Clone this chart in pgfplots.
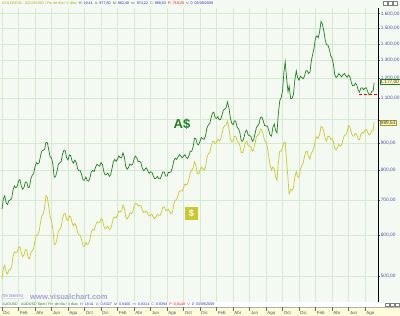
\documentclass[border=0pt]{standalone}
\usepackage{pgfplots}
\pgfplotsset{compat=1.18}
\usepackage{pgfplotstable}
\usepackage{fontspec}
\setmainfont{Liberation Sans}
\definecolor{bg}{HTML}{F4F9F2}
\definecolor{gridc}{HTML}{D3E9D0}
\definecolor{gline}{HTML}{1F7F1F}
\definecolor{yline}{HTML}{C9C92E}
\definecolor{lab}{HTML}{5252A0}
\definecolor{strip}{HTML}{FFFCDC}
\definecolor{urlc}{HTML}{A4A4D2}
\definecolor{valc}{HTML}{2F2FC0}

\pgfplotstableread{
t usd aud
0.00 495 673
0.17 518 705
0.33 525 714
0.50 509 692
0.67 505 687
0.83 514 699
1.00 515 701
1.17 521 705
1.33 545 732
1.50 557 746
1.67 555 740
1.83 556 744
2.00 568 762
2.17 570 767
2.33 555 747
2.50 545 735
2.67 550 741
2.83 562 758
3.00 562 759
3.17 543 740
3.33 540 742
3.50 555 770
3.67 560 783
3.83 565 787
4.00 585 812
4.17 600 827
4.33 600 822
4.50 610 826
4.67 635 852
4.83 654 871
5.00 660 874
5.17 678 877
5.33 715 905
5.50 708 903
5.67 680 875
5.83 651 848
6.00 640 845
6.17 616 821
6.33 575 775
6.50 577 778
6.67 590 797
6.83 610 821
7.00 615 826
7.17 622 831
7.33 645 858
7.50 659 873
7.67 660 871
7.83 643 845
8.00 640 837
8.17 653 856
8.33 650 853
8.50 633 832
8.67 625 825
8.83 632 836
9.00 625 828
9.17 606 804
9.33 600 798
9.50 599 798
9.67 585 782
9.83 572 766
10.00 570 765
10.17 581 776
10.33 575 764
10.50 578 762
10.67 590 774
10.83 609 795
11.00 615 799
11.17 613 795
11.33 625 809
11.50 636 821
11.67 635 817
11.83 634 814
12.00 645 827
12.17 642 821
12.33 625 796
12.50 617 783
12.67 620 785
12.83 624 790
13.00 615 778
13.17 617 784
13.33 630 805
13.50 647 831
13.67 650 839
13.83 647 832
14.00 655 840
14.17 667 852
14.33 665 845
14.50 668 846
14.67 685 864
14.83 676 849
15.00 650 813
15.17 644 803
15.33 650 809
15.50 661 822
15.67 660 818
15.83 664 821
16.00 680 840
16.17 691 851
16.33 690 845
16.50 682 831
16.67 685 832
16.83 684 828
17.00 670 807
17.17 663 798
17.33 665 803
17.50 668 808
17.67 660 798
17.83 653 789
18.00 655 794
18.17 658 793
18.33 650 780
18.50 645 770
18.67 650 772
18.83 658 778
19.00 655 771
19.17 655 770
19.33 665 780
19.50 679 794
19.67 680 793
19.83 669 779
20.00 670 779
20.17 673 792
20.33 665 792
20.50 659 795
20.67 665 811
20.83 689 834
21.00 700 843
21.17 702 839
21.33 715 848
21.50 729 857
21.67 730 852
21.83 729 845
22.00 740 851
22.17 752 857
22.33 750 846
22.50 753 842
22.67 770 853
22.83 792 870
23.00 800 870
23.17 807 887
23.33 830 922
23.50 818 919
23.67 790 898
23.83 787 895
24.00 800 909
24.17 811 924
24.33 805 920
24.50 800 917
24.67 810 931
24.83 843 963
25.00 860 977
25.17 864 982
25.33 885 1006
25.50 907 1030
25.67 910 1034
25.83 899 1010
26.00 905 1006
26.17 917 1013
26.33 910 1000
26.50 916 1001
26.67 940 1022
26.83 966 1044
27.00 975 1048
27.17 976 1055
27.33 995 1082
27.50 966 1056
27.67 920 1011
27.83 907 986
28.00 910 978
28.17 928 995
28.33 930 993
28.50 910 968
28.67 905 960
28.83 893 945
29.00 865 911
29.17 865 909
29.33 880 924
29.50 903 949
29.67 910 955
29.83 892 935
30.00 890 932
30.17 888 930
30.33 870 909
30.50 877 915
30.67 900 939
30.83 926 966
31.00 935 974
31.17 940 984
31.33 960 1011
31.50 956 1012
31.67 935 995
31.83 912 975
32.00 905 973
32.17 886 973
32.33 850 955
32.50 817 934
32.67 800 930
32.83 811 966
33.00 805 982
33.17 777 953
33.33 765 944
33.50 828 1029
33.67 870 1088
33.83 870 1102
34.00 885 1135
34.17 903 1234
34.33 905 1293
34.50 830 1201
34.67 770 1132
34.80 720 1161
35.00 735 1097
35.17 732 1100
35.33 740 1121
35.50 776 1194
35.67 795 1242
35.83 777 1205
36.00 775 1192
36.17 803 1212
36.33 815 1207
36.50 825 1199
36.67 850 1214
36.83 868 1241
37.00 870 1243
37.17 847 1227
37.33 840 1235
37.50 863 1299
37.67 870 1338
37.83 887 1375
38.00 920 1438
38.17 928 1451
38.33 920 1438
38.50 937 1478
38.67 970 1545
38.83 968 1528
39.00 950 1484
39.17 922 1426
39.33 910 1394
39.50 928 1393
39.67 930 1368
39.83 917 1329
40.00 920 1314
40.17 908 1280
40.33 880 1222
40.50 875 1206
40.67 885 1212
40.83 896 1227
41.00 890 1219
41.17 895 1209
41.33 915 1220
41.50 933 1228
41.67 935 1214
41.83 947 1207
42.00 975 1219
42.17 968 1210
42.33 945 1181
42.50 930 1162
42.67 930 1163
42.83 941 1176
43.00 935 1169
43.17 917 1140
43.33 915 1130
43.50 938 1151
43.67 945 1152
43.83 942 1142
44.00 955 1151
44.17 958 1152
44.33 945 1132
44.50 935 1116
44.67 940 1119
44.83 954 1135
45.00 955 1137
45.10 990 1179
}\gold

\begin{document}
\begin{tikzpicture}
\useasboundingbox (0pt,0pt) rectangle (400pt,316pt);
\fill[bg] (0pt,0pt) rectangle (400pt,316pt);
\fill[strip] (0pt,0pt) rectangle (400pt,9pt);
\fill[white] (0pt,9pt) rectangle (400pt,14pt);
\draw[gray!60, line width=0.3pt] (0pt,9pt) -- (400pt,9pt);
\begin{axis}[
  at={(0pt,14pt)}, anchor=south west, scale only axis,
  width=378pt, height=294pt,
  xmin=-0.2424, xmax=45.576,
  ymode=log, ymin=446, ymax=1641,
  axis y line*=right, axis x line*=bottom,
  x axis line style={draw=none},
  y axis line style={black, line width=0.8pt, -},
  ytick={500,600,700,800,900,1000,1100,1200,1300,1400,1500,1600},
  yticklabels={{500,00},{600,00},{700,00},{800,00},{900,00},{},{1.100,00},{1.200,00},{1.300,00},{1.400,00},{1.500,00},{1.600,00}},
  xtick={0,2,...,44},
  xticklabels={Dic,Feb,Abr,Jun,Ago,Oct,Dic,Feb,Abr,Jun,Ago,Oct,Dic,Feb,Abr,Jun,Ago,Oct,Dic,Feb,Abr,Jun,Ago},
  minor tick num=0,
  grid=major, major grid style={gridc, line width=0.5pt},
  x tick style={draw=none},
  y tick style={lab, line width=0.4pt},
  major tick length=2pt, tick align=outside,
  yticklabel style={font=\fontsize{4.8}{5}\selectfont, text=lab, inner sep=0.6pt},
  xticklabel style={font=\fontsize{4.4}{5}\selectfont, text=black!70, anchor=north west, inner sep=0pt, yshift=-7.5pt, xshift=1.2pt},
]
\addplot[yline, line width=0.7pt] table[x=t, y=usd] {\gold};
\addplot[gline, line width=0.7pt] table[x=t, y=aud] {\gold};
\addplot[red, densely dashed, line width=0.5pt] coordinates {(43.3,1121) (45.4,1121)};
\end{axis}
% tick marks in the month strip
\foreach \i in {0,...,22} {
  \draw[black!60, line width=0.3pt] ({2+16.5*\i pt},5pt) -- ({2+16.5*\i pt},9pt);
}
% labels inside chart
\node[text=gline, font=\bfseries\fontsize{13}{14}\selectfont, inner sep=0pt] at (182pt,192pt) {A\$};
\node[fill=yline, text=white, font=\bfseries\fontsize{9}{10}\selectfont, minimum width=13pt, minimum height=13pt, inner sep=0pt] at (191.5pt,102.5pt) {\$};
% value boxes on the right axis
\node[fill=yellow!25, draw=gline, line width=0.4pt, inner sep=0.7pt, anchor=west, font=\fontsize{4.8}{5}\selectfont, text=black!80] at (379.5pt,234pt) {1.177,00};
\node[fill=yellow!25, draw=yline!80!black, line width=0.4pt, inner sep=0.7pt, anchor=west, font=\fontsize{4.8}{5}\selectfont, text=black!80] at (380pt,193pt) {989,63};
% header
\node[anchor=west, inner sep=0pt, font=\fontsize{3.7}{4}\selectfont] at (2pt,312.5pt)
  {\textcolor{yline!85!black}{GOLD/USD - GOLD/USD | Fin de día / 4 días}\ \ \textcolor{black!60}{H:} \textcolor{valc}{19:41}\ \ \textcolor{black!60}{A:} \textcolor{valc}{977,80}\ \ \textcolor{black!60}{M:} \textcolor{valc}{982,48}\ \ \textcolor{black!60}{m:} \textcolor{valc}{974,22}\ \ \textcolor{black!60}{C:} \textcolor{valc}{989,63}\ \ \textcolor{red}{P: 719,20}\ \ \textcolor{black!60}{V:} \textcolor{valc}{0}\ \ \textcolor{valc}{03/09/2009}};
\foreach \k in {0,1,2} {
  \draw[gray, fill=white, line width=0.25pt] ({383+5*\k pt},310.5pt) rectangle ({387+5*\k pt},314.5pt);
  \draw[gray, fill=white, line width=0.25pt] ({385+5*\k pt},9.8pt) rectangle ({389+5*\k pt},13.2pt);
}
% bottom overlay
\node[draw=gray!70, fill=white, rounded corners=0.6pt, inner sep=0.7pt, anchor=west, font=\fontsize{3.6}{4}\selectfont, text=valc!70] at (2pt,19.5pt) {Sin órdenes};
\node[anchor=west, inner sep=0pt, text=urlc, font=\bfseries\fontsize{7.6}{8}\selectfont] at (30pt,19.5pt) {www.visualchart.com};
\node[anchor=west, inner sep=0pt, font=\fontsize{3.7}{4}\selectfont] at (2pt,11.5pt)
  {\textcolor{gline}{AUDUSD - AUDUSD Spot | Fin de día / 4 días}\ \ \textcolor{black!60}{H:} \textcolor{valc}{18:41}\ \ \textcolor{black!60}{A:} \textcolor{valc}{0,8327}\ \ \textcolor{black!60}{M:} \textcolor{valc}{0,8400}\ \ \textcolor{black!60}{m:} \textcolor{valc}{0,8314}\ \ \textcolor{black!60}{C:} \textcolor{valc}{0,8394}\ \ \textcolor{red}{P: 0,8148}\ \ \textcolor{black!60}{V:} \textcolor{valc}{0}\ \ \textcolor{valc}{03/09/2009}};
\end{tikzpicture}
\end{document}
